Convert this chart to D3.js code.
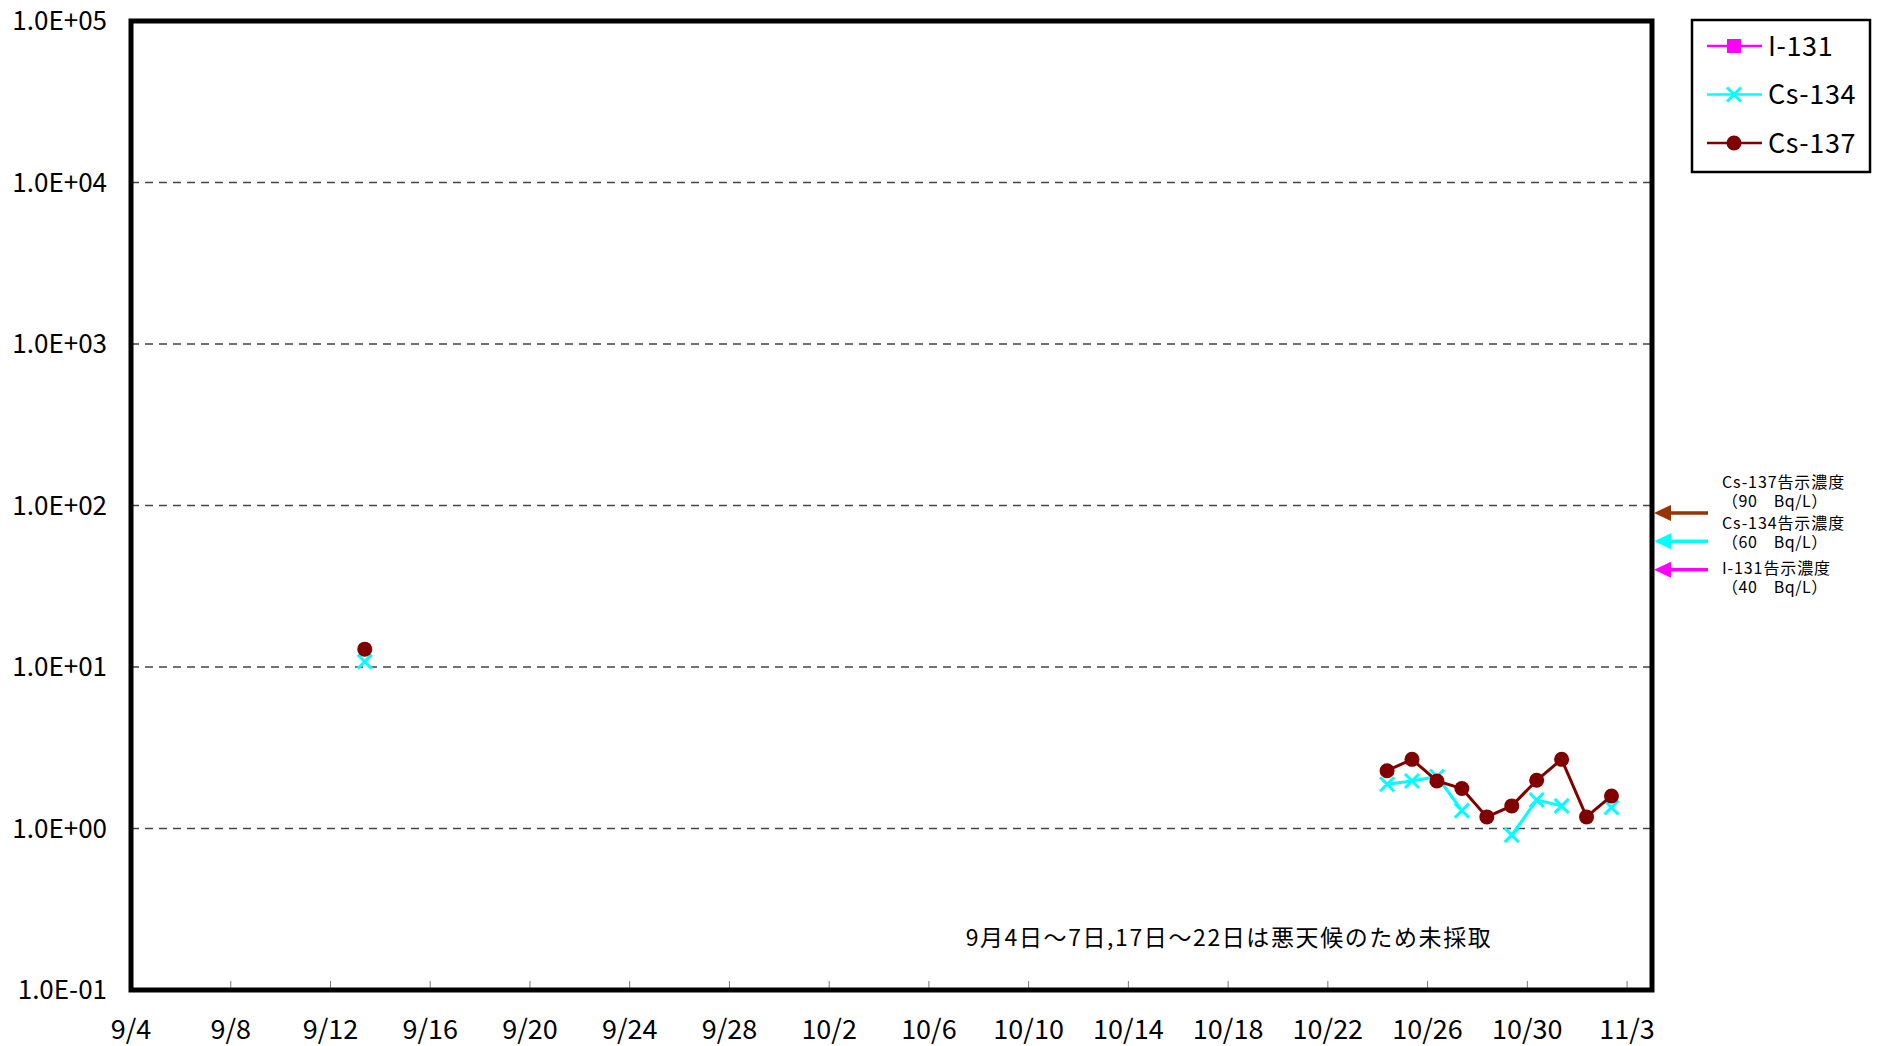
<!DOCTYPE html>
<html>
<head>
<meta charset="utf-8">
<script src="https://cdn.jsdelivr.net/npm/d3@7/dist/d3.min.js"></script>
<style>
  body { margin: 0; background: #fff; }
  svg { display: block; }
  text { font-family: "Noto Sans CJK JP", "Noto Sans", sans-serif; fill: #000; }
</style>
</head>
<body>
<svg id="chart" width="1879" height="1046"></svg>
<script>
// sampling dates (taken around 9:00) and measured concentrations (Bq/L), null = not detected
var sampleDates = ["2011-09-13", "2011-10-24", "2011-10-25", "2011-10-26", "2011-10-27", "2011-10-28",
                   "2011-10-29", "2011-10-30", "2011-10-31", "2011-11-01", "2011-11-02"];
var i131  = [null, null, null, null, null, null, null, null, null, null, null];
var cs134 = [10.8, 1.88, 1.97, 2.1, 1.29, null, 0.91, 1.50, 1.38, null, 1.35];
var cs137 = [12.9, 2.28, 2.68, 1.97, 1.77, 1.18, 1.38, 1.99, 2.68, 1.18, 1.59];

var seriesNames = ["I-131", "Cs-134", "Cs-137"];
var seriesColors = ["#ff00ff", "#00ffff", "#800000"];

// notification limits
var limitNames = ["Cs-137告示濃度", "Cs-134告示濃度", "I-131告示濃度"];
var limitTexts = ["（90　Bq/L）", "（60　Bq/L）", "（40　Bq/L）"];
var limitValues = [90, 60, 40];
var limitColors = ["#993300", "#00ffff", "#ff00ff"];

var yTicks = [0.1, 1, 10, 100, 1000, 10000, 100000];
var xTickLabels = ["9/4", "9/8", "9/12", "9/16", "9/20", "9/24", "9/28", "10/2", "10/6",
                   "10/10", "10/14", "10/18", "10/22", "10/26", "10/30", "11/3"];
var note = "9月4日～7日,17日～22日は悪天候のため未採取";

var svg = d3.select("#chart");
var plotLeft = 131, plotRight = 1652, plotTop = 21, plotBottom = 990;

var parseDay = d3.timeParse("%Y-%m-%d");
var x = d3.scaleTime()
	.domain([parseDay("2011-09-04"), parseDay("2011-11-04")])
	.range([plotLeft, plotRight]);
var y = d3.scaleLog().domain([0.1, 100000]).range([plotBottom, plotTop]);

function sampleTime(s){
	return d3.timeHour.offset(parseDay(s), 9);
}

function expLabel(v){
	var e = Math.round(Math.log10(v));
	return "1.0E" + (e < 0 ? "-" : "+") + d3.format("02d")(Math.abs(e));
}

// grid
svg.append("g")
	.selectAll("line")
	.data(yTicks.slice(1, -1))
	.enter()
	.append("line")
	.attr("x1", plotLeft).attr("x2", plotRight)
	.attr("y1", function(d){ return y(d); })
	.attr("y2", function(d){ return y(d); })
	.attr("stroke", "#444")
	.attr("stroke-width", 1.3)
	.attr("stroke-dasharray", "8,6");

// y labels
svg.append("g")
	.selectAll("text")
	.data(yTicks)
	.enter()
	.append("text")
	.attr("x", 107)
	.attr("y", function(d){ return y(d); })
	.attr("dy", "0.36em")
	.attr("text-anchor", "end")
	.attr("font-size", 26)
	.text(expLabel);

// x ticks and labels
var xTickDates = xTickLabels.map(function(d, i){ return d3.timeDay.offset(parseDay("2011-09-04"), i * 4); });
svg.append("g")
	.selectAll("line")
	.data(xTickDates.slice(1))
	.enter()
	.append("line")
	.attr("x1", function(d){ return x(d); })
	.attr("x2", function(d){ return x(d); })
	.attr("y1", plotBottom).attr("y2", plotBottom - 9)
	.attr("stroke", "#777")
	.attr("stroke-width", 1);
svg.append("g")
	.selectAll("text")
	.data(xTickDates)
	.enter()
	.append("text")
	.attr("x", function(d){ return x(d); })
	.attr("y", 1029)
	.attr("dy", "0.36em")
	.attr("text-anchor", "middle")
	.attr("font-size", 27)
	.text(function(d, i){ return xTickLabels[i]; });

// series
var allSeries = [i131, cs134, cs137];
var points = allSeries.map(function(vals){
	return sampleDates.map(function(s, i){ return {t: sampleTime(s), v: vals[i]}; });
});

function segments(pts){
	// break the line where sampling days are not consecutive
	var segs = [], cur = [];
	pts.forEach(function(p, i){
		if (i > 0 && d3.timeDay.count(pts[i-1].t, p.t) > 1){ segs.push(cur); cur = []; }
		cur.push(p);
	});
	segs.push(cur);
	return segs;
}

var line = d3.line()
	.defined(function(d){ return d.v != null; })
	.x(function(d){ return x(d.t); })
	.y(function(d){ return y(d.v); });

function drawMarker(g, k, cx, cy){
	var c = seriesColors[k];
	if (k == 0){
		g.append("rect").attr("x", cx - 7).attr("y", cy - 7).attr("width", 14).attr("height", 14).attr("fill", c);
	} else if (k == 1){
		g.append("path")
			.attr("d", "M" + (cx-7) + "," + (cy-7) + "L" + (cx+7) + "," + (cy+7) + "M" + (cx-7) + "," + (cy+7) + "L" + (cx+7) + "," + (cy-7))
			.attr("stroke", c).attr("stroke-width", 3).attr("fill", "none");
	} else {
		g.append("circle").attr("cx", cx).attr("cy", cy).attr("r", 7.5).attr("fill", c);
	}
}

points.forEach(function(pts, k){
	var g = svg.append("g");
	segments(pts).forEach(function(seg){
		g.append("path")
			.attr("d", line(seg))
			.attr("fill", "none")
			.attr("stroke", seriesColors[k])
			.attr("stroke-width", 3);
	});
	pts.filter(function(p){ return p.v != null; }).forEach(function(p){
		drawMarker(g, k, x(p.t), y(p.v));
	});
});

// note
svg.append("text")
	.attr("x", 1229)
	.attr("y", 938)
	.attr("dy", "0.36em")
	.attr("text-anchor", "middle")
	.attr("font-size", 23)
	.attr("letter-spacing", 1.6)
	.text(note);

// frame
svg.append("rect")
	.attr("x", plotLeft).attr("y", plotTop)
	.attr("width", plotRight - plotLeft).attr("height", plotBottom - plotTop)
	.attr("fill", "none")
	.attr("stroke", "#000")
	.attr("stroke-width", 5);

// limit arrows
var arrows = svg.append("g");
limitValues.forEach(function(v, i){
	var ay = y(v);
	arrows.append("line")
		.attr("x1", 1668).attr("x2", 1708)
		.attr("y1", ay).attr("y2", ay)
		.attr("stroke", limitColors[i]).attr("stroke-width", 3.5);
	arrows.append("path")
		.attr("d", "M1654," + ay + "L1671," + (ay - 8) + "L1671," + (ay + 8) + "Z")
		.attr("fill", limitColors[i]);
});
var labelRows = [482, 523, 568];
limitNames.forEach(function(n, i){
	var t = svg.append("text")
		.attr("x", 1722).attr("y", labelRows[i]).attr("dy", "0.36em")
		.attr("font-size", 16);
	t.append("tspan").attr("letter-spacing", 0.9).text(n);
	t.append("tspan").attr("x", 1722).attr("dy", 19).attr("letter-spacing", 0.5).text(limitTexts[i]);
});

// legend
var legend = svg.append("g");
legend.append("rect")
	.attr("x", 1692).attr("y", 20).attr("width", 178).attr("height", 152)
	.attr("fill", "#fff").attr("stroke", "#000").attr("stroke-width", 2.5);
seriesNames.forEach(function(n, k){
	var ly = 46 + k * 48.5;
	legend.append("line")
		.attr("x1", 1707).attr("x2", 1762).attr("y1", ly).attr("y2", ly)
		.attr("stroke", seriesColors[k]).attr("stroke-width", 2.5);
	drawMarker(legend, k, 1734, ly);
	legend.append("text").attr("x", 1768).attr("y", ly).attr("dy", "0.36em")
		.attr("font-size", 27).attr("letter-spacing", 0.6).text(n);
});
</script>
</body>
</html>
